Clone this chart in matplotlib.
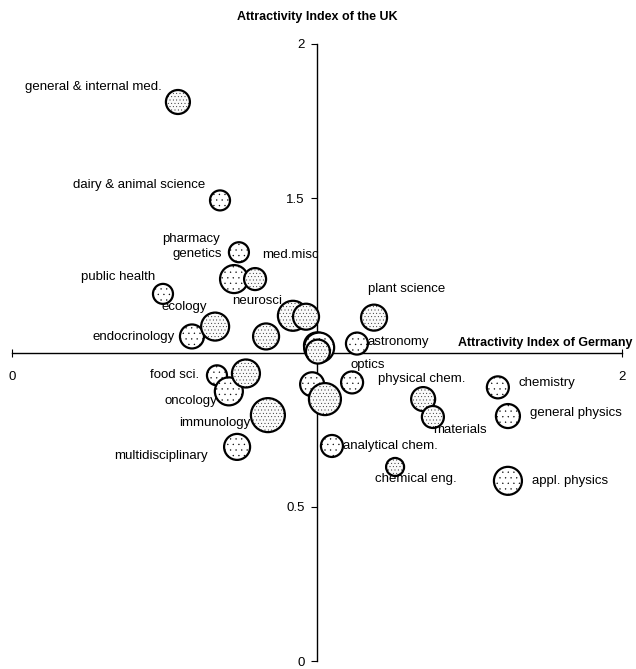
import matplotlib.pyplot as plt
import numpy as np

plt.rcParams['font.family'] = ['Liberation Sans', 'DejaVu Sans']
plt.rcParams['hatch.linewidth'] = 0.2

# fields, attractivity index for Germany (x) and UK (y), bubble size
fields = ['general & internal med.', 'dairy & animal science', 'pharmacy', 'genetics',
          'med.misc', 'public health', 'ecology', 'endocrinology', 'neurosci',
          '', '', '', '', '', 'food sci.', '', 'oncology', 'immunology',
          'multidisciplinary', '', '', 'plant science', 'astronomy', 'optics',
          'physical chem.', 'materials', 'chemistry', 'general physics',
          'analytical chem.', 'chemical eng.', 'appl. physics']
germany = [0.544, 0.682, 0.744, 0.728, 0.797, 0.495, 0.666, 0.590, 0.921,
           0.964, 0.833, 1.000, 1.007, 1.003, 0.672, 0.767, 0.711, 0.839,
           0.738, 0.984, 1.026, 1.187, 1.131, 1.115, 1.348, 1.380, 1.593,
           1.626, 1.049, 1.256, 1.626]
uk = [1.812, 1.493, 1.325, 1.238, 1.238, 1.190, 1.084, 1.052, 1.119,
      1.116, 1.052, 1.023, 1.016, 1.003, 0.926, 0.932, 0.874, 0.797,
      0.694, 0.897, 0.849, 1.113, 1.029, 0.903, 0.849, 0.791, 0.887,
      0.794, 0.697, 0.629, 0.584]
size = [12, 10, 10, 14, 11, 10, 14, 12, 15, 13, 13, 13, 15, 12, 10, 14, 14, 17,
        13, 12, 16, 13, 11, 11, 12, 11, 11, 12, 11, 9, 14]

# bubbles drawn with a denser stipple
dense = {'ecology', 'neurosci', 'immunology', 'plant science', 'physical chem.',
         'materials', 'chemical eng.', 'med.misc', 'general & internal med.'}
dense_idx = {9, 10, 13, 15, 20}

# label offsets in pixels (dx, dy downwards) and alignment
label_pos = {
    'general & internal med.': (-16, -15, 'right'),
    'dairy & animal science': (-15, -15, 'right'),
    'pharmacy': (-19, -13, 'right'),
    'genetics': (-12, -25, 'right'),
    'med.misc': (7, -24, 'left'),
    'public health': (-8, -17, 'right'),
    'ecology': (-8, -20, 'right'),
    'endocrinology': (-17, 1, 'right'),
    'neurosci': (-11, -15, 'right'),
    'food sci.': (-18, 0, 'right'),
    'oncology': (-12, 10, 'right'),
    'immunology': (-18, 8, 'right'),
    'multidisciplinary': (-29, 9, 'right'),
    'plant science': (-6, -29, 'left'),
    'astronomy': (11, -2, 'left'),
    'optics': (-2, -17, 'left'),
    'physical chem.': (-45, -20, 'left'),
    'materials': (0, 13, 'left'),
    'chemistry': (21, -4, 'left'),
    'general physics': (22, -3, 'left'),
    'analytical chem.': (11, 0, 'left'),
    'chemical eng.': (-20, 12, 'left'),
    'appl. physics': (24, 0, 'left'),
}

fig = plt.figure(figsize=(6.36, 6.69), dpi=100)
ax = fig.add_axes([12 / 636, 8 / 669, 610 / 636, 617 / 669])

x = np.array(germany)
y = np.array(uk)
s = (2 * np.array(size) * 0.72) ** 2
is_dense = np.array([(f in dense) or (i in dense_idx) for i, f in enumerate(fields)])

with plt.rc_context({'hatch.color': '#c4c4c4'}):
    ax.scatter(x[~is_dense], y[~is_dense], s=s[~is_dense], facecolor='white',
               edgecolor='black', linewidth=1.6, hatch='...', zorder=3, clip_on=False)
with plt.rc_context({'hatch.color': '#a0a0a0'}):
    ax.scatter(x[is_dense], y[is_dense], s=s[is_dense], facecolor='#fafafa',
               edgecolor='black', linewidth=1.6, hatch='.....', zorder=3, clip_on=False)

for i, name in enumerate(fields):
    if not name:
        continue
    dx, dy, ha = label_pos[name]
    ax.annotate(name, (x[i], y[i]), xytext=(dx * 0.72, -dy * 0.72),
                textcoords='offset points', ha=ha, va='center',
                fontsize=9.5, color='black', zorder=4)

ax.set_xlim(0, 2)
ax.set_ylim(0, 2)
ax.spines['left'].set_position(('data', 1))
ax.spines['bottom'].set_position(('data', 1))
ax.spines[['top', 'right']].set_visible(False)
ax.spines[['left', 'bottom']].set_linewidth(1.0)

ax.set_xticks([0, 2])
ax.set_xticklabels(['0', '2'], fontsize=9.5)
ax.set_yticks([0, 0.5, 1.5, 2])
ax.set_yticklabels(['0', '0.5', '1.5', '2'], fontsize=9.5)
ax.tick_params(axis='x', direction='inout', length=6, pad=10)
ax.tick_params(axis='y', direction='out', length=4, pad=5)
ax.patch.set_visible(False)

fig.text(317 / 636, 1 - 17 / 669, 'Attractivity Index of the UK', ha='center',
         va='center', fontsize=9, fontweight='bold')
fig.text(545 / 636, 1 - 343 / 669, 'Attractivity Index of Germany', ha='center',
         va='center', fontsize=9, fontweight='bold')

fig.savefig('out.png', dpi=100)
